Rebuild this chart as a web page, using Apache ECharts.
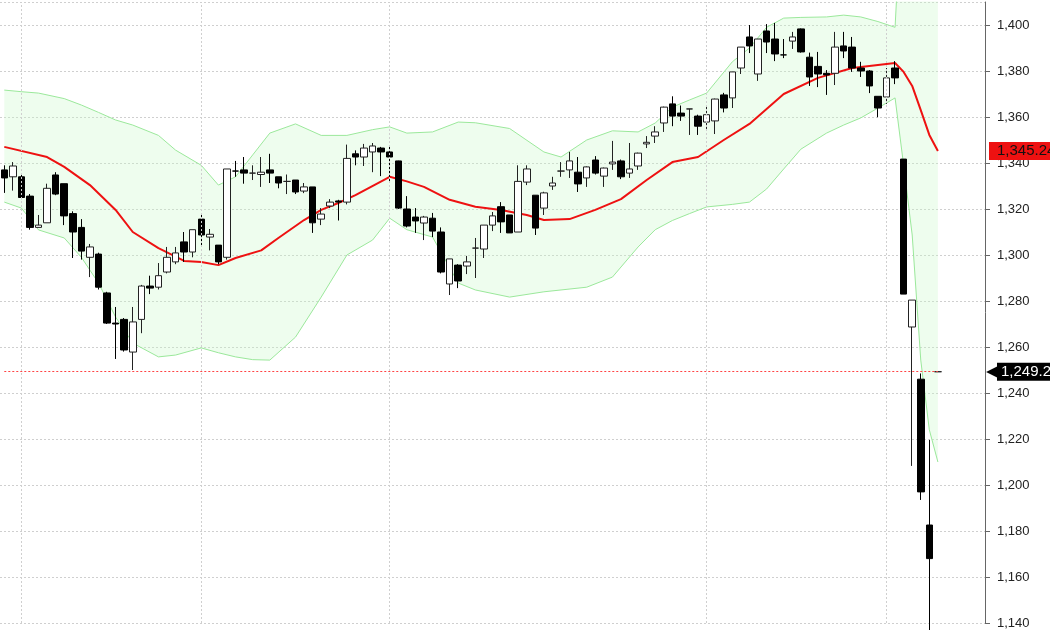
<!DOCTYPE html>
<html><head><meta charset="utf-8">
<script src="https://cdn.jsdelivr.net/npm/echarts@6/dist/echarts.min.js"></script>
<style>html,body{margin:0;padding:0;background:#fff}#c{width:1050px;height:630px}</style>
</head><body><div id="c"></div>
<script>
// candles: [open, close, low, high]
const candles = [
[1337,1333.5,1327,1339],[1334,1338.7,1328,1340.4],[1334,1325,1324.3,1335.6],[1325.6,1312,1311,1326.5],[1312,1313,1312,1317.4],
[1314,1329,1314,1331],[1334.8,1326.5,1326,1336],[1331,1317,1313,1331],[1318,1310,1298.7,1319],[1312,1301.7,1298,1315.6],
[1299,1303.5,1290.4,1304.8],[1300.4,1286,1285,1301],[1283.5,1270.4,1270,1284],[1270.4,1270,1254.8,1277.4],[1272,1258.7,1258,1272.6],
[1257.8,1270.9,1250,1277.4],[1272,1286.5,1266,1287],[1286.5,1285.6,1283,1291],[1286,1291,1285,1296.5],[1292.6,1299,1292,1303.5],
[1297,1300.9,1296,1303.5],[1305.7,1301.3,1297,1310],[1301.3,1311,1299,1311],[1315.6,1308.7,1304,1317.4],[1307.8,1309,1302,1311.3],
[1304.3,1297,1296,1304.3],[1299,1337.4,1298,1337.4],[1336.5,1336.5,1334,1340.9],[1337,1335.6,1331,1342.6],[1335.6,1335.6,1332.6,1339],
[1335,1336,1329.6,1342.6],[1337,1335.6,1331.3,1344],[1334,1331.3,1329,1334],[1332,1332,1326.5,1335],[1332.6,1327.4,1326.5,1332.6],
[1327.8,1329.6,1326.9,1331.3],[1329.6,1314,1309.6,1329.6],[1315.6,1317.8,1313,1320.4],[1321.3,1323,1320.4,1324.3],[1323.5,1323,1315,1324],
[1323,1342,1322,1348],[1344,1342.6,1339,1345.5],[1342.6,1346.5,1338.7,1348.3],[1344.8,1347.4,1336,1348.7],[1346.5,1344.8,1334.3,1347],
[1344.8,1342.6,1331.7,1347],[1340.9,1320.4,1320,1341],[1320,1312.6,1312,1325.6],[1316.5,1314.8,1309.6,1320.4],[1313.9,1316.5,1306.5,1317],
[1316,1310.4,1307.8,1318.3],[1310,1292.6,1292,1312],[1287.4,1298.3,1282.6,1298.3],[1295.6,1288.7,1285.6,1296],[1295.2,1297,1291.7,1299.6],
[1303,1303,1290,1307.4],[1302.6,1313,1298.7,1313],[1313,1317,1310.4,1318.7],[1321,1314.4,1309.6,1323],[1317.4,1309.6,1309.6,1317.4],
[1310,1332,1310,1339],[1331.7,1337.4,1330.4,1339],[1326,1311.7,1308.7,1326],[1320.4,1327,1317.4,1327.5],[1330,1331.3,1328.3,1334],
[1336.5,1336.5,1334,1340.4],[1337,1340.9,1333.5,1344.8],[1336,1330.9,1327.4,1342.6],[1333.5,1338.3,1329.6,1338.5],[1341.3,1335.6,1335,1343],
[1334.3,1337.8,1329.6,1338],[1339.6,1340.4,1337,1349.6],[1340.9,1334,1333,1341.5],[1335.6,1337.4,1333.5,1348.7],[1338.7,1344.3,1337,1344.5],
[1348.3,1349,1346.5,1351.7],[1351.7,1353.5,1348.7,1356],[1357.4,1364.3,1353.5,1364.5],[1365.7,1360.4,1356,1369],[1361.7,1360.4,1358.3,1365],
[1363.5,1363.5,1352.2,1363.5],[1360.4,1356,1352.2,1361],[1357.8,1361,1354.8,1365],[1358.3,1367.8,1352.6,1368],[1369.6,1363.9,1362,1370.5],
[1368.3,1379.6,1363.9,1379.6],[1381.3,1390.4,1378.7,1390.4],[1394.8,1390.9,1387.8,1400],[1378.7,1393.9,1375.7,1393.9],[1397.4,1392.6,1387.8,1400.4],
[1393.9,1387.4,1384.3,1400.9],[1387,1387,1385.6,1393.9],[1393,1394.8,1389.6,1397],[1398.3,1388.3,1388,1398.5],[1386,1377.4,1373.5,1388],
[1382,1378.7,1373,1388.3],[1379,1378.3,1369.6,1380.4],[1379,1390.4,1373.9,1397],[1390.9,1388.7,1385.6,1397],[1390.4,1381.3,1379.6,1394.8],
[1381.3,1380,1377.4,1384],[1380,1373.5,1370.4,1380.4],[1369,1363.9,1359.9,1369],[1368.7,1377,1365.7,1381.3],[1381.3,1377,1374.3,1384.3],
[1341.7,1283,1283,1341.7],[1268.7,1280.4,1208.3,1280.4],[1246,1197,1193.5,1248.5],[1182.6,1168,1130,1219.6],[1249.25,1249.25,1249.25,1249.25]
];
// SMA read at [index, value]
const smaPts = [[0,1347],[5,1342.6],[7,1338.3],[10,1330.4],[13,1319.6],[15,1310],[18,1303],[21,1297.4],[23,1297],[25,1295.6],[27,1298.7],
[30,1302],[32,1307.4],[35,1315.2],[37,1319.6],[39,1322.6],[41,1326],[45,1334],[47,1332],[49,1329.6],[52,1324],[55,1321],[58,1319.6],
[61,1317.4],[63,1315.2],[66,1315.6],[69,1319.6],[72,1324.3],[75,1332.6],[78,1340.4],[81,1342.6],[84,1350],[87,1357],[91,1370],[95,1377],
[99,1381.3],[104,1383.5],[105,1379.6],[106,1373.5],[107,1363],[108,1352.2],[109,1345.24]];
const bandIdx = [0,2,4,7,9,11,13,15,18,20,23,25,27,29,31,34,37,40,43,45,47,50,53,55,59,63,65,68,71,74,76,78,80,82,85,87,89,91,93,96,98,100,102,104,105,106,107,108,109];
const upperVals = [1371.7,1371,1370.4,1368,1365.2,1362,1358.7,1356.5,1352,1345.6,1339,1330.4,1334,1343.5,1353,1357,1352,1352,1354.5,1355.7,1353,1353.5,1357.8,1357.5,1355,1344.8,1342.6,1350,1354,1353.5,1357.4,1364.3,1367.4,1370.4,1384,1390,1399,1403,1403.3,1403.5,1404.3,1403.5,1401.5,1399,1470,1490,1500,1505,1505];
const lowerVals = [1323,1320.4,1310.9,1307.4,1299,1287.8,1273,1261.7,1255.7,1256.5,1259.6,1257.5,1255.7,1254.5,1254.3,1264.3,1281.7,1300,1306.5,1316,1311,1307.8,1287.8,1284.8,1281.7,1284,1284.8,1286,1290.4,1303.5,1311,1315,1318,1320.9,1322,1323,1328.7,1337.4,1346,1353,1356.5,1359.6,1363.9,1368.3,1339,1308.7,1254.3,1224,1210];
const lastPrice = 1249.25, lastSma = 1345.24;
const gridCats = [2,23,45,82,103];
const N = 115;

const cats = Array.from({length:N},(_,i)=>String(i));
const lowerData = bandIdx.map((k,j)=>[k,lowerVals[j]]);
const diffData = bandIdx.map((k,j)=>[k,upperVals[j]-lowerVals[j]]);
const fmt = v => v.toLocaleString('en-US',{minimumFractionDigits:2,maximumFractionDigits:2});
const lastIdx = candles.length - 1;

const chart = echarts.init(document.getElementById('c'));
chart.setOption({
  animation:false,
  backgroundColor:'#fff',
  grid:{left:0,right:65,top:2,bottom:7},
  xAxis:{type:'category',data:cats,boundaryGap:true,axisLine:{show:false},axisTick:{show:false},axisLabel:{show:false},splitLine:{show:false}},
  yAxis:{type:'value',position:'right',min:1140,max:1410,interval:20,
    axisLine:{show:true,lineStyle:{color:'#666'}},
    axisTick:{show:true,length:5,lineStyle:{color:'#666'}},
    axisLabel:{color:'#222',fontSize:13,fontFamily:'Arial, Liberation Sans',margin:12,showMaxLabel:false,
      formatter:v=>v.toLocaleString('en-US')},
    splitLine:{show:true,lineStyle:{color:'#cfcfcf',type:[2,2]}}},
  series:[
    {type:'line',data:lowerData,stack:'bb',symbol:'none',lineStyle:{color:'#9be89b',width:1},z:1,
     markLine:{silent:true,symbol:'none',lineStyle:{color:'#cfcfcf',type:[2,2],width:1},label:{show:false},
       data:gridCats.map(k=>({xAxis:k}))}},
    {type:'line',data:diffData,stack:'bb',symbol:'none',lineStyle:{color:'#9be89b',width:1},
     areaStyle:{color:'rgba(200,248,200,0.45)'},z:1},
    {type:'line',data:smaPts,symbol:'none',lineStyle:{color:'#ee1111',width:2},z:3,
     markLine:{silent:true,symbol:'none',
       data:[{yAxis:lastSma,lineStyle:{color:'rgba(0,0,0,0)',width:1},
         label:{show:true,position:'end',distance:4,formatter:()=>fmt(lastSma),backgroundColor:'#ee1111',color:'#111',
         fontSize:15,fontFamily:'Arial, Liberation Sans',padding:[2,6,1,8]}}]}},
    {type:'candlestick',data:candles,barWidth:7,z:4,
     itemStyle:{color:'#fff',color0:'#000',borderColor:'#222',borderColor0:'#000',borderWidth:1},
     markLine:{silent:true,symbol:'none',z:5,
       data:[
         [{xAxis:0,yAxis:lastPrice,lineStyle:{color:'#ff4444',type:[2,2],width:1},label:{show:false}},
          {xAxis:lastIdx,yAxis:lastPrice}],
         {yAxis:lastPrice,lineStyle:{color:'rgba(0,0,0,0)',width:1},
          label:{show:true,position:'end',distance:1,formatter:()=>'{a|◀}{b|'+fmt(lastPrice)+'}',
           rich:{a:{color:'#000',fontSize:19,padding:[0,-4,0,0]},
                 b:{backgroundColor:'#000',color:'#fff',fontSize:15,fontFamily:'Arial, Liberation Sans',padding:[2,6,1,4]}}}}
       ]}}
  ]
});
</script></body></html>
